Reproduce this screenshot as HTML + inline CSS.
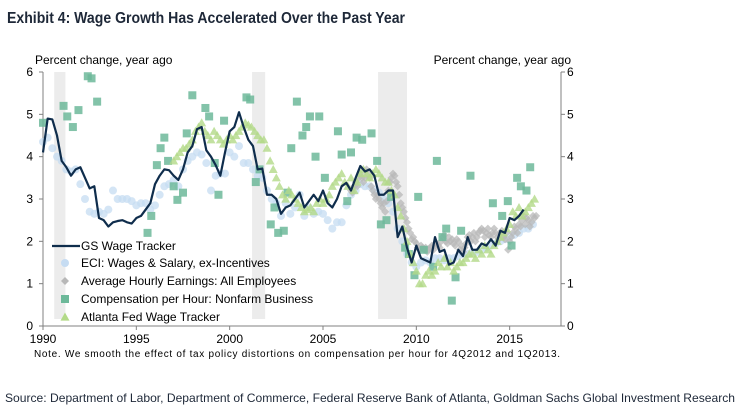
<!DOCTYPE html>
<html><head><meta charset="utf-8"><style>
html,body{margin:0;padding:0;background:#fff;}
svg{display:block;font-family:"Liberation Sans",Arial,sans-serif;}
</style></head><body>
<svg id="chart" width="742" height="413" viewBox="0 0 742 413">
<text x="7" y="23" font-size="16" font-weight="bold" fill="#1e2838" textLength="398" lengthAdjust="spacingAndGlyphs">Exhibit 4: Wage Growth Has Accelerated Over the Past Year</text>
<text x="35" y="64" font-size="12" fill="#000">Percent change, year ago</text>
<text x="571" y="64" font-size="12" fill="#000" text-anchor="end">Percent change, year ago</text>
<g id="rec"></g>
<g id="axes"></g>
<g id="marks"></g>
<g id="legend"></g>
<text x="34" y="357" font-size="10" fill="#000" textLength="526" lengthAdjust="spacing">Note.  We smooth  the effect of tax policy distortions on compensation  per hour  for 4Q2012  and 1Q2013.</text>
<text x="5" y="402" font-size="12" fill="#1e2838" textLength="730" lengthAdjust="spacingAndGlyphs">Source: Department of Labor, Department of Commerce, Federal Reserve Bank of Atlanta, Goldman Sachs Global Investment Research</text>
</svg>
<script>
const recessions=[[1990.6,1991.2],[2001.2,2001.9],[2007.95,2009.5]];
const yTicks=[0,1,2,3,4,5,6];
const xTicks=[1990,1995,2000,2005,2010,2015];
const gsStart=1990;
const gsValues=[4.1,4.9,4.88,4.5,3.9,3.75,3.55,3.7,3.75,3.5,3.25,3.3,2.55,2.5,2.35,2.45,2.48,2.5,2.45,2.42,2.55,2.6,2.75,2.9,3.35,3.55,3.7,3.68,3.55,3.45,3.7,4.1,4.25,4.65,4.7,4.15,4.0,3.8,3.55,4.1,4.6,4.7,5.05,4.7,4.4,4.25,3.7,3.72,3.1,3.1,3.0,2.65,2.8,2.85,3.0,3.15,2.8,2.95,3.1,2.95,3.2,2.9,2.8,3.0,3.3,3.38,3.2,3.5,3.78,3.65,3.7,3.55,3.1,3.1,3.2,3.2,2.1,2.35,1.85,1.5,1.9,1.6,1.55,1.5,2.1,1.75,1.8,1.45,1.5,1.8,1.65,2.1,1.8,1.8,1.95,1.9,2.05,1.9,2.25,2.2,2.55,2.5,2.6,2.75];
const eciStart=1990;
const eciValues=[4.35,4.45,4.2,4.0,3.9,3.7,3.65,3.7,3.35,3.0,2.7,2.65,2.7,2.65,2.75,3.2,3.0,3.0,3.0,2.95,2.85,2.9,2.9,2.75,2.85,3.1,3.3,3.35,3.45,3.3,3.7,3.9,4.0,4.1,4.05,3.85,3.2,3.55,3.6,3.6,4.1,4.0,4.25,3.85,3.85,3.7,3.55,3.5,3.2,3.0,2.9,2.6,2.9,2.65,2.8,3.1,2.6,2.8,2.65,2.7,2.65,2.5,2.3,2.45,2.45,2.85,3.1,3.2,3.35,3.3,3.3,3.2,3.15,3.0,2.9,2.7,2.3,2.0,1.7,1.5,1.4,1.5,1.55,1.5,1.6,1.6,1.55,1.6,1.6,1.65,1.7,1.7,1.75,1.75,1.8,1.85,1.9,1.95,2.0,2.05,2.1,2.15,2.2,2.3,2.3,2.4];
const aheStart=2006.5;
const aheValues=[3.2,3.15,3.3,3.4,3.3,3.5,3.6,3.5,3.4,3.5,3.7,3.6,3.5,3.3,3.2,3.1,3.0,3.1,3.0,2.9,2.8,2.9,2.7,2.95,3.2,3.4,3.5,3.6,3.55,3.4,3.3,3.1,2.9,2.8,2.7,2.55,2.45,2.3,2.2,2.05,2.1,2.0,1.95,1.85,1.8,1.9,1.85,1.8,1.85,1.75,1.8,1.85,1.9,1.8,1.9,1.95,1.9,1.85,2.0,2.1,2.15,2.0,1.95,2.1,2.0,2.05,1.95,1.9,2.05,2.0,1.8,1.9,1.75,1.85,1.95,2.1,2.15,2.0,2.1,2.2,2.0,2.1,2.2,2.25,2.3,2.25,2.1,2.2,2.3,2.15,2.1,2.2,2.3,2.2,2.1,2.05,2.2,2.25,2.1,2.05,2.2,1.8,2.0,2.1,2.2,2.35,2.3,2.2,2.4,2.35,2.5,2.6,2.4,2.55,2.5,2.35,2.45,2.6,2.55,2.6];
const atlStart=1997;
const atlValues=[3.9,4.0,4.1,4.2,4.2,4.3,4.4,4.6,4.7,4.8,4.6,4.5,4.4,4.6,4.5,4.4,4.3,4.4,4.5,4.4,4.5,4.6,4.7,4.8,4.75,4.7,4.6,4.5,4.4,4.4,4.2,3.9,3.7,3.5,3.3,3.1,3.0,3.2,3.1,3.0,2.9,2.8,2.7,2.75,2.8,2.7,2.9,3.0,2.9,3.0,3.1,3.3,3.4,3.5,3.6,3.4,3.3,3.5,3.2,3.4,3.6,3.7,3.6,3.5,3.6,3.7,3.6,3.5,3.4,3.4,3.2,3.1,2.8,2.6,2.3,2.0,1.7,1.5,1.3,1.0,1.0,1.2,1.3,1.2,1.3,1.5,1.4,1.6,1.4,1.5,1.3,1.4,1.5,1.5,1.6,1.7,1.7,1.6,1.8,1.7,1.9,1.8,1.7,1.9,2.0,2.1,2.2,2.3,2.4,2.7,2.6,2.8,2.6,2.7,2.8,2.9,3.0];
const cphYears=[1990.0,1991.1,1991.3,1991.6,1991.9,1992.4,1992.6,1992.9,1995.6,1995.8,1996.1,1996.3,1996.5,1996.7,1997.0,1997.2,1997.5,1997.7,1998.0,1998.7,1998.9,1999.2,1999.4,1999.7,2000.9,2001.1,2001.4,2001.6,2002.2,2002.4,2002.6,2002.9,2003.1,2003.3,2003.6,2003.9,2004.1,2004.3,2004.6,2004.8,2005.1,2005.8,2006.0,2006.3,2006.5,2006.8,2007.1,2007.6,2007.9,2008.1,2008.4,2008.65,2009.4,2009.6,2009.9,2010.1,2010.4,2010.9,2011.1,2011.4,2011.6,2011.9,2012.1,2012.4,2012.9,2014.1,2014.6,2014.9,2015.1,2015.4,2015.6,2015.9,2016.1];
const cphValues=[4.8,5.2,4.95,4.7,5.1,5.9,5.85,5.3,2.2,2.6,3.8,4.2,4.45,3.9,3.3,2.98,3.15,4.55,5.45,5.15,4.95,3.85,3.1,4.85,5.4,5.35,3.4,3.7,2.4,2.8,2.2,2.25,3.15,4.2,5.3,4.5,4.7,4.95,4.0,4.95,3.5,4.6,4.05,2.95,4.1,4.45,4.4,4.55,3.9,2.4,2.5,3.05,1.85,1.7,1.2,3.05,1.8,1.4,3.9,2.1,2.3,0.6,1.15,2.25,3.55,2.9,2.6,2.95,1.9,3.5,3.3,3.2,3.75];

const NS="http://www.w3.org/2000/svg";
const X0=43,X1=561,Y0=326,Y1=72,YR0=1990,YR1=2017.75;
const xs=v=>X0+(v-YR0)/(YR1-YR0)*(X1-X0);
const ys=v=>Y0-(v/6)*(Y0-Y1);
function mk(tag,attrs,parent){const e=document.createElementNS(NS,tag);for(const k in attrs)e.setAttribute(k,attrs[k]);parent.appendChild(e);return e;}
const rec=document.getElementById('rec'),axes=document.getElementById('axes'),marks=document.getElementById('marks'),legend=document.getElementById('legend');
recessions.forEach(r=>{const e=mk('rect',{x:xs(r[0]),y:Y1,width:xs(r[1])-xs(r[0]),height:Y0-Y1-7,fill:'#ececec'},rec);

});
mk('line',{x1:X0,y1:Y1,x2:X0,y2:Y0,stroke:'#808080'},axes);
mk('line',{x1:X1,y1:Y1,x2:X1,y2:Y0,stroke:'#808080'},axes);
mk('line',{x1:X0,y1:Y0,x2:X1,y2:Y0,stroke:'#808080'},axes);
yTicks.forEach(t=>{const y=ys(t);
mk('line',{x1:X0-4,y1:y,x2:X0,y2:y,stroke:'#808080'},axes);
mk('line',{x1:X1,y1:y,x2:X1+4,y2:y,stroke:'#808080'},axes);
const a=mk('text',{x:33,y:y+4,'font-size':12,'text-anchor':'end'},axes);a.textContent=t;


const b=mk('text',{x:567,y:y+4,'font-size':12},axes);b.textContent=t;

});
xTicks.forEach(t=>{const x=xs(t);mk('line',{x1:x,y1:Y0,x2:x,y2:Y0+4,stroke:'#808080'},axes);
const a=mk('text',{x:x,y:Y0+17,'font-size':12,'text-anchor':'middle'},axes);a.textContent=t;

});
function tri(cx,cy,s){return `${cx},${cy-s} ${cx-s},${cy+s*0.8} ${cx+s},${cy+s*0.8}`;}
eciValues.forEach((v,i)=>{const c=mk('circle',{cx:xs(eciStart+i/4),cy:ys(v),r:4,fill:'#c6dcf2','fill-opacity':0.75},marks);

});
aheValues.forEach((v,i)=>{const x=xs(aheStart+i/12),y=ys(v);const d=mk('polygon',{points:`${x},${y-4} ${x+4},${y} ${x},${y+4} ${x-4},${y}`,fill:'#b8b8b8','fill-opacity':0.75},marks);

});
cphValues.forEach((v,i)=>{const s=mk('rect',{x:xs(cphYears[i])-4,y:ys(v)-4,width:8,height:8,fill:'#6db99a','fill-opacity':0.85},marks);

});
atlValues.forEach((v,i)=>{const p=mk('polygon',{points:tri(xs(atlStart+i/6),ys(v),4.5),fill:'#b3da88','fill-opacity':0.8},marks);

});
const line=mk('polyline',{points:gsValues.map((v,i)=>xs(gsStart+i/4)+','+ys(v)).join(' '),fill:'none',stroke:'#0f2d4c','stroke-width':2.2,'stroke-linejoin':'round'},marks);


const items=[['line','GS Wage Tracker',246],['circle','ECI: Wages & Salary, ex-Incentives',263],['diamond','Average Hourly Earnings: All Employees',281],['square','Compensation per Hour: Nonfarm Business',299],['tri','Atlanta Fed Wage Tracker',317]];
items.forEach(it=>{const g=mk('g',{},legend);


const y=it[2],cx=65;
if(it[0]=='line')mk('line',{x1:52,y1:y,x2:80,y2:y,stroke:'#0f2d4c','stroke-width':2.2},g);
if(it[0]=='circle')mk('circle',{cx:cx,cy:y,r:4,fill:'#c6dcf2'},g);
if(it[0]=='diamond')mk('polygon',{points:`${cx},${y-4} ${cx+4},${y} ${cx},${y+4} ${cx-4},${y}`,fill:'#b8b8b8'},g);
if(it[0]=='square')mk('rect',{x:cx-4,y:y-4,width:8,height:8,fill:'#6db99a'},g);
if(it[0]=='tri')mk('polygon',{points:tri(cx,y,4.5),fill:'#b3da88'},g);
const t=mk('text',{x:81,y:y+4,'font-size':12},g);t.textContent=it[1];});
</script>
</body></html>
